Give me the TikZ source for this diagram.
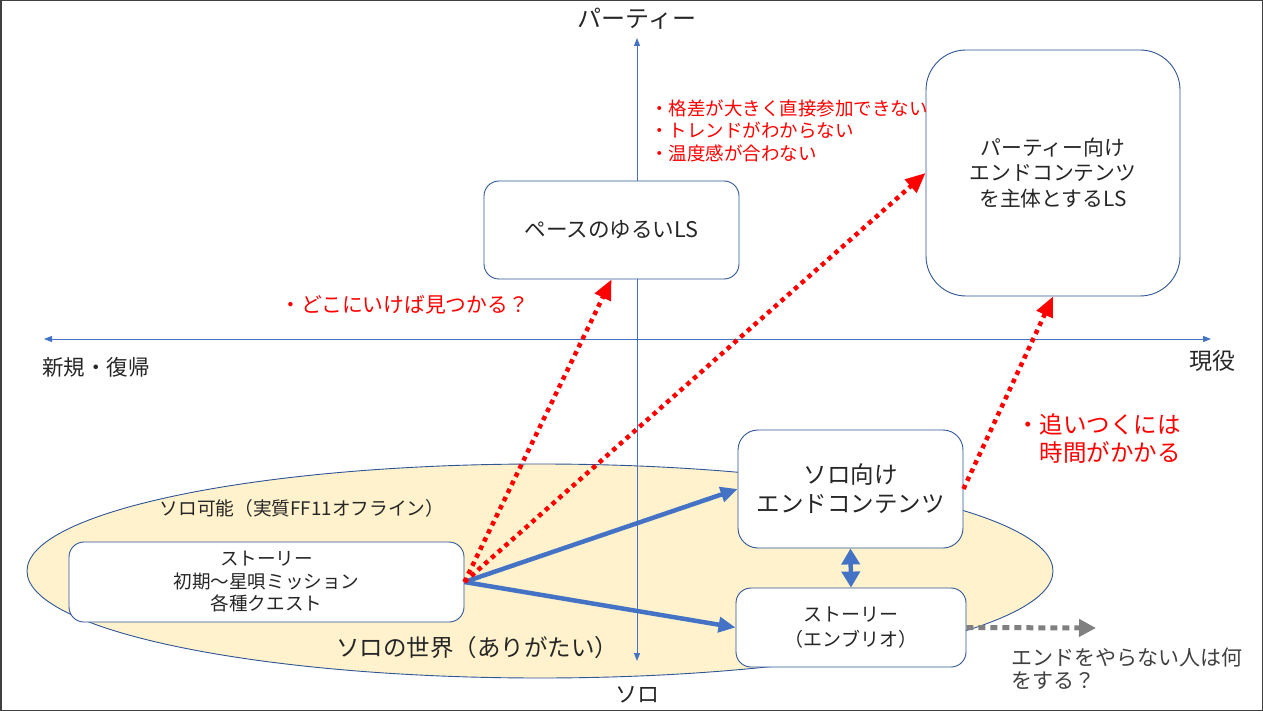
\documentclass[tikz,border=0pt]{standalone}
\usepackage{fontspec}
\setmainfont{Noto Sans CJK JP}
\usetikzlibrary{arrows.meta}
\definecolor{axisblue}{HTML}{4472C4}
\definecolor{edgeblue}{HTML}{2F5597}
\definecolor{soloyellow}{HTML}{FFF2CC}
\definecolor{inkgray}{HTML}{262626}

\begin{document}
\begin{tikzpicture}[x=1pt, y=-1pt,
    box/.style={draw=edgeblue, line width=0.9pt, fill=white, rounded corners=15pt,
      align=center, text=inkgray, inner sep=0pt},
    axis/.style={draw=axisblue, line width=1pt,
      {Triangle[length=8pt,width=6pt]}-{Triangle[length=8pt,width=6pt]}},
    flow/.style={draw=axisblue, line width=4.5pt, -{Triangle[length=17pt,width=15pt]}},
    hint/.style={draw=red, line width=4.5pt, dash pattern=on 4.5pt off 4.5pt,
      -{Triangle[length=20pt,width=17pt]}},
    note/.style={text=red, align=left, inner sep=0pt},
    label/.style={text=inkgray, inner sep=0pt}
  ]
    \useasboundingbox (0,0) rectangle (1263,711);
    \draw[black!75, line width=1.5pt] (0.75,0.75) rectangle (1262.25,710.25);

    % solo world
    \fill[soloyellow, draw=edgeblue, line width=0.9pt] (540,571) ellipse [x radius=513, y radius=107];

    % axes
    \coordinate (top) at (637,38);
    \coordinate (bottom) at (637,661);
    \coordinate (left) at (44,339);
    \coordinate (right) at (1211,339);
    \draw[axis] (top) -- (bottom);
    \draw[axis] (left) -- (right);
    \node[label, font=\fontsize{24}{28}\selectfont] (party) at (637,19) {パーティー};
    \node[label, font=\fontsize{22}{26}\selectfont] (solo) at (637,695) {ソロ};
    \node[label, anchor=west, font=\fontsize{21.5}{25}\selectfont] (newbie) at (42,367) {新規・復帰};
    \node[label, anchor=west, font=\fontsize{23}{27}\selectfont] (active) at (1189,361) {現役};

    \node[label, font=\fontsize{18.7}{22}\selectfont] (solook) at (302,508) {ソロ可能（実質FF11オフライン）};
    \node[label, font=\fontsize{23.5}{27}\selectfont] (soloworld) at (477,648) {ソロの世界（ありがたい）};

    % boxes
    \node[box, minimum width=395pt, minimum height=80pt, font=\fontsize{18.6}{22.5}\selectfont]
      (story) at (266.5,582) {ストーリー\\初期～星唄ミッション\\各種クエスト};
    \node[box, minimum width=225pt, minimum height=118pt, rounded corners=20pt,
      font=\fontsize{23.5}{29}\selectfont] (soloend) at (850.5,489) {ソロ向け\\エンドコンテンツ};
    \node[box, minimum width=230pt, minimum height=79pt, font=\fontsize{19}{25}\selectfont]
      (embryo) at (851,627.5) {ストーリー\\（エンブリオ）};
    \node[box, minimum width=255pt, minimum height=98pt, font=\fontsize{21.6}{25}\selectfont]
      (slowls) at (611.5,230) {ペースのゆるいLS};
    \node[box, minimum width=254pt, minimum height=246pt, rounded corners=40pt,
      font=\fontsize{20.8}{25.5}\selectfont] (partyls) at (1053,173)
      {パーティー向け\\エンドコンテンツ\\を主体とするLS};

    % notes
    \node[note, anchor=west, font=\fontsize{18.5}{22.5}\selectfont] (gap) at (650,130.5)
      {・格差が大きく直接参加できない\\・トレンドがわからない\\・温度感が合わない};
    \node[note, anchor=west, font=\fontsize{20.8}{24}\selectfont] (where) at (280,305) {・どこにいけば見つかる？};
    \node[note, anchor=west, font=\fontsize{23.5}{28}\selectfont] (catchup) at (1016,439)
      {・追いつくには\\　時間がかかる};
    \node[label, anchor=west, align=left, text=black!75, font=\fontsize{21}{23.5}\selectfont]
      (noend) at (1011,669) {エンドをやらない人は何\\をする？};

    % connectors
    \draw[flow] (story.east) -- (soloend.west);
    \draw[flow] (story.east) -- (embryo.west);
    \draw[flow, {Triangle[length=16pt,width=18pt]}-{Triangle[length=16pt,width=18pt]}]
      (soloend.south) -- (embryo.north);
    \draw[hint] (story.east) -- (slowls.south);
    \draw[hint] (story.east) -- (partyls.west);
    \draw[hint] (soloend.east) -- (partyls.south);
    \coordinate (gone) at (1096,628);
    \draw[draw=gray, line width=5pt, dash pattern=on 7pt off 5pt,
      -{Triangle[length=17pt,width=17pt]}] (embryo.east) -- (gone);
\end{tikzpicture}
\end{document}
